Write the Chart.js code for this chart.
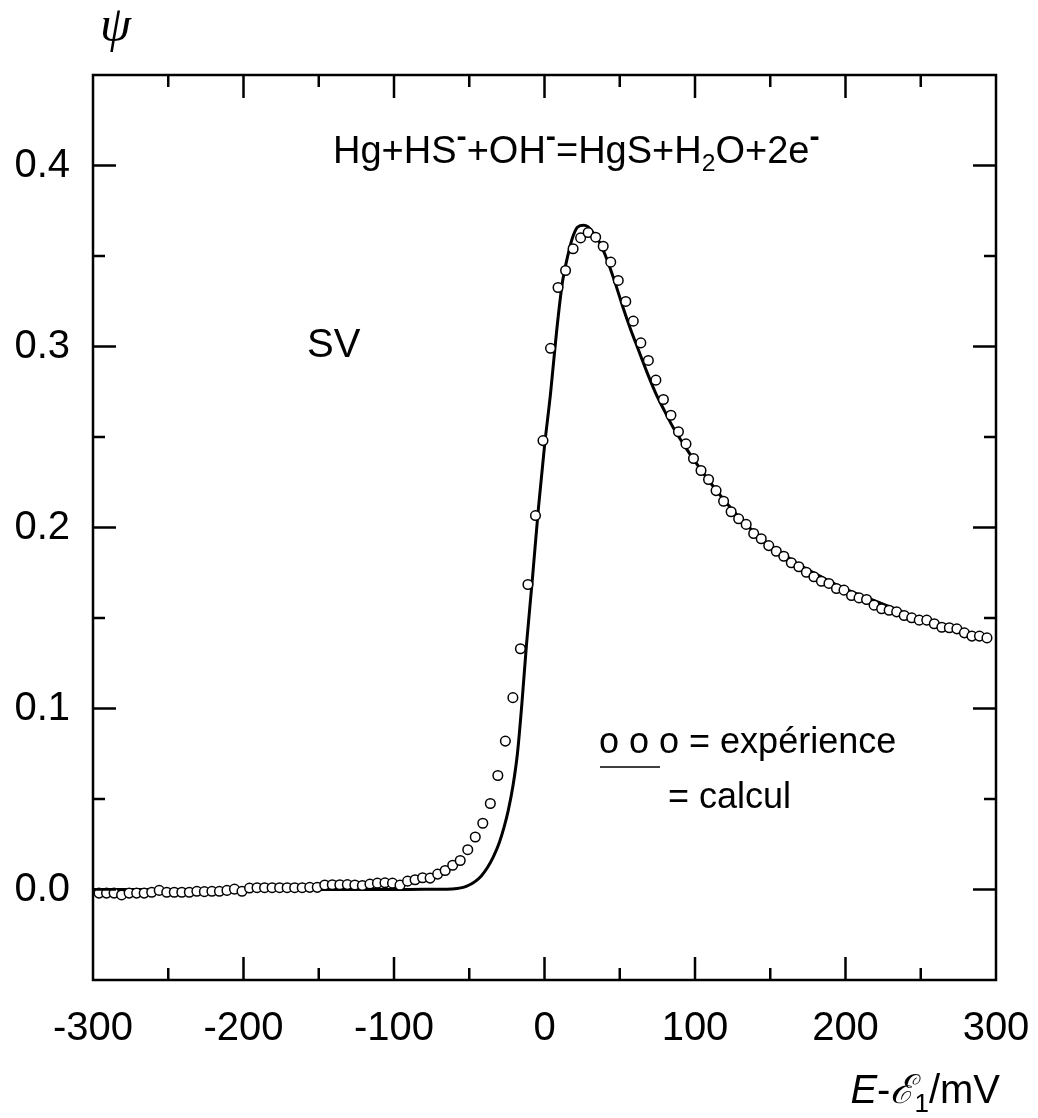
<!DOCTYPE html>
<html>
<head>
<meta charset="utf-8">
<script src="https://cdn.jsdelivr.net/npm/chart.js@4.4.0/dist/chart.umd.min.js"></script>
<style>
  body { margin: 0; background: #fff; }
  canvas { display: block; }
</style>
</head>
<body>
<canvas id="myChart" width="1038" height="1118"></canvas>
<script>
// experimental points (E - E1 in mV, psi)
var expVoltage = [
  -296, -291, -286, -281, -276, -271, -266, -261, -256, -251,
  -246, -241, -236, -231, -226, -221, -216, -211, -206, -201,
  -196, -191, -186, -181, -176, -171, -166, -161, -156, -151,
  -146, -141, -136, -131, -126, -121, -116, -111, -106, -101,
  -96, -91, -86, -81, -76, -71, -66, -61, -56, -51,
  -46, -41, -36, -31, -26, -21, -16, -11, -6, -1,
  4, 9, 14, 19, 24, 29, 34, 39, 44, 49,
  54, 59, 64, 69, 74, 79, 84, 89, 94, 99,
  104, 109, 114, 119, 124, 129, 134, 139, 144, 149,
  154, 159, 164, 169, 174, 179, 184, 189, 194, 199,
  204, 209, 214, 219, 224, 229, 234, 239, 244, 249,
  254, 259, 264, 269, 274, 279, 284, 289, 294
];
var expPsi = [
  -0.002, -0.002, -0.002, -0.003, -0.002, -0.002, -0.002, -0.0015, -0.0005, -0.0015,
  -0.0015, -0.0015, -0.0015, -0.001, -0.0012, -0.001, -0.001, -0.0005, 0.0002, -0.001,
  0.0008, 0.001, 0.001, 0.001, 0.001, 0.001, 0.001, 0.001, 0.0012, 0.0012,
  0.0025, 0.0026, 0.0026, 0.0027, 0.0025, 0.0022, 0.003, 0.0035, 0.0037, 0.0035,
  0.0024, 0.0046, 0.0054, 0.0065, 0.0063, 0.0085, 0.0105, 0.0134, 0.016, 0.022,
  0.029, 0.0366, 0.0475, 0.063, 0.082, 0.106, 0.133, 0.1685, 0.2066, 0.248,
  0.299, 0.3326, 0.342, 0.354, 0.360, 0.363, 0.3604, 0.3554, 0.3466, 0.3365,
  0.3249, 0.314, 0.302, 0.2923, 0.2814, 0.2707, 0.262, 0.2529, 0.2462, 0.2381,
  0.2315, 0.2265, 0.2204, 0.2145, 0.2087, 0.2048, 0.2017, 0.1967, 0.1938, 0.19,
  0.1869, 0.1841, 0.1805, 0.1783, 0.1753, 0.1728, 0.1703, 0.1691, 0.1663, 0.1654,
  0.1624, 0.1611, 0.1602, 0.1571, 0.1551, 0.1543, 0.1534, 0.1514, 0.1501, 0.1488,
  0.1488, 0.1468, 0.1449, 0.1446, 0.144, 0.1418, 0.14, 0.14, 0.139
];

// calculated curve
var calcVoltage = [-300, -200, -120, -80, -65, -58, -54, -50, -46, -42, -38, -34, -30, -27, -24, -21, -18, -15, -12, -8, -4, 0, 4, 8, 12, 16, 19, 22, 26, 29, 33, 37, 42, 47, 52, 57, 62, 68, 74, 80, 86, 92, 100, 110, 120, 130, 140, 150, 160, 170, 180, 190, 200, 215, 230, 245, 260, 275, 290];
var calcPsi = [0, 0, 0, 0.0001, 0.0002, 0.0006, 0.0012, 0.0025, 0.0045, 0.0075, 0.012, 0.018, 0.026, 0.034, 0.044, 0.057, 0.075, 0.103, 0.135, 0.172, 0.211, 0.245, 0.274, 0.308, 0.336, 0.352, 0.361, 0.366, 0.367, 0.366, 0.362, 0.357, 0.347, 0.335, 0.322, 0.310, 0.299, 0.286, 0.274, 0.264, 0.2545, 0.2465, 0.2365, 0.225, 0.2145, 0.205, 0.197, 0.190, 0.1845, 0.179, 0.1745, 0.170, 0.166, 0.161, 0.156, 0.151, 0.147, 0.144, 0.140];

var xMin = -300, xMax = 300, xStep = 50;
var yMin = -0.05, yMax = 0.45, yStep = 0.05;

var equation = [
  { t: 'Hg+HS' }, { t: '-', sup: true }, { t: '+OH' }, { t: '-', sup: true },
  { t: '=HgS+H' }, { t: '2', sub: true }, { t: 'O+2e' }, { t: '-', sup: true }
];
var xTitle = [
  { t: 'E', italic: true }, { t: '-' }, { t: '\u2130', italic: true }, { t: '1', sub: true }, { t: '/mV' }
];

var fam = "'Liberation Sans', Arial, sans-serif";

function pts(xs, ys) {
  return xs.map(function (x, i) { return { x: x, y: ys[i] }; });
}

function partFont(p, size) {
  var fs = p.sub ? size * 0.65 : (p.sup ? size * 0.8 : size);
  return (p.italic ? 'italic ' : '') + (p.sup ? 'bold ' : '') + fs + 'px ' + fam;
}

function drawRich(ctx, x, y, parts, size, alignRight) {
  var widths = parts.map(function (p) {
    ctx.font = partFont(p, size);
    return ctx.measureText(p.t).width;
  });
  if (alignRight) {
    x -= widths.reduce(function (a, b) { return a + b; }, 0);
  }
  parts.forEach(function (p, i) {
    ctx.font = partFont(p, size);
    var dy = p.sub ? size * 0.22 : (p.sup ? -size * 0.45 : 0);
    ctx.fillText(p.t, x, y + dy);
    x += widths[i];
  });
}

var frame = {
  id: 'frame',
  afterDraw: function (chart) {
    var ctx = chart.ctx;
    var a = chart.chartArea;
    var xs = chart.scales.x, ys = chart.scales.y;
    ctx.save();
    ctx.strokeStyle = '#000';
    ctx.lineWidth = 2.5;
    ctx.strokeRect(a.left, a.top, a.right - a.left, a.bottom - a.top);

    ctx.beginPath();
    xs.ticks.forEach(function (t) {
      if (t.value <= xMin || t.value >= xMax) return;
      var px = xs.getPixelForValue(t.value);
      var len = (Math.round(t.value) % 100 === 0) ? 23 : 12;
      ctx.moveTo(px, a.bottom); ctx.lineTo(px, a.bottom - len);
      ctx.moveTo(px, a.top); ctx.lineTo(px, a.top + len);
    });
    ys.ticks.forEach(function (t) {
      if (t.value <= yMin + 1e-9 || t.value >= yMax - 1e-9) return;
      var py = ys.getPixelForValue(t.value);
      var major = Math.round(t.value * 100) % 10 === 0;
      var len = major ? 23 : 12;
      ctx.moveTo(a.left, py); ctx.lineTo(a.left + len, py);
      ctx.moveTo(a.right, py); ctx.lineTo(a.right - len, py);
    });
    ctx.stroke();

    ctx.fillStyle = '#000';
    ctx.textBaseline = 'alphabetic';
    ctx.textAlign = 'left';

    // axis titles
    ctx.font = "italic 50px 'Liberation Serif', 'DejaVu Serif', serif";
    ctx.fillText('\u03C8', 100, 41);
    drawRich(ctx, 1000, 1103, xTitle, 40, true);

    // annotations
    drawRich(ctx, 333, 163, equation, 38, false);
    ctx.font = '40px ' + fam;
    ctx.fillText('SV', 307, 357);
    ctx.font = '36px ' + fam;
    ctx.fillText('o o o = exp\u00e9rience', 599, 753);
    ctx.fillText('= calcul', 668, 808);
    ctx.lineWidth = 1.5;
    ctx.beginPath();
    ctx.moveTo(600, 767); ctx.lineTo(660, 767);
    ctx.stroke();
    ctx.restore();
  }
};

var ctx = document.getElementById('myChart').getContext('2d');

var chartData = {
  type: 'scatter',
  data: {
    datasets: [
      {
        label: 'expérience',
        data: pts(expVoltage, expPsi),
        showLine: false,
        pointStyle: 'circle',
        pointRadius: 4.8,
        pointBorderWidth: 1.5,
        pointBorderColor: '#000',
        pointBackgroundColor: '#fff',
      },
      {
        label: 'calcul',
        data: pts(calcVoltage, calcPsi),
        showLine: true,
        borderColor: '#000',
        borderWidth: 3,
        pointRadius: 0,
        cubicInterpolationMode: 'monotone',
        fill: false,
      },
    ],
  },
  options: {
    responsive: false,
    animation: false,
    layout: { padding: { left: 0, right: 42, top: 75, bottom: 0 } },
    plugins: { legend: { display: false }, tooltip: { enabled: false } },
    scales: {
      x: {
        type: 'linear',
        min: xMin,
        max: xMax,
        grid: { display: false, drawTicks: false },
        border: { display: false },
        ticks: {
          stepSize: xStep,
          autoSkip: false,
          maxRotation: 0,
          padding: 25,
          color: '#000',
          font: { size: 40, family: fam },
          callback: function (v) { return Math.round(v) % 100 === 0 ? String(Math.round(v)) : ''; }
        },
        afterFit: function (s) { s.height = 138; s.paddingLeft = 0; s.paddingRight = 0; }
      },
      y: {
        type: 'linear',
        min: yMin,
        max: yMax,
        grid: { display: false, drawTicks: false },
        border: { display: false },
        ticks: {
          stepSize: yStep,
          autoSkip: false,
          padding: 23,
          color: '#000',
          font: { size: 40, family: fam },
          callback: function (v) {
            return Math.round(v * 100) % 10 === 0 ? v.toFixed(1) : '';
          }
        },
        afterFit: function (s) { s.width = 93; s.paddingTop = 0; s.paddingBottom = 0; }
      }
    }
  },
  plugins: [frame]
};

var myChart = new Chart(ctx, chartData);
</script>
</body>
</html>
